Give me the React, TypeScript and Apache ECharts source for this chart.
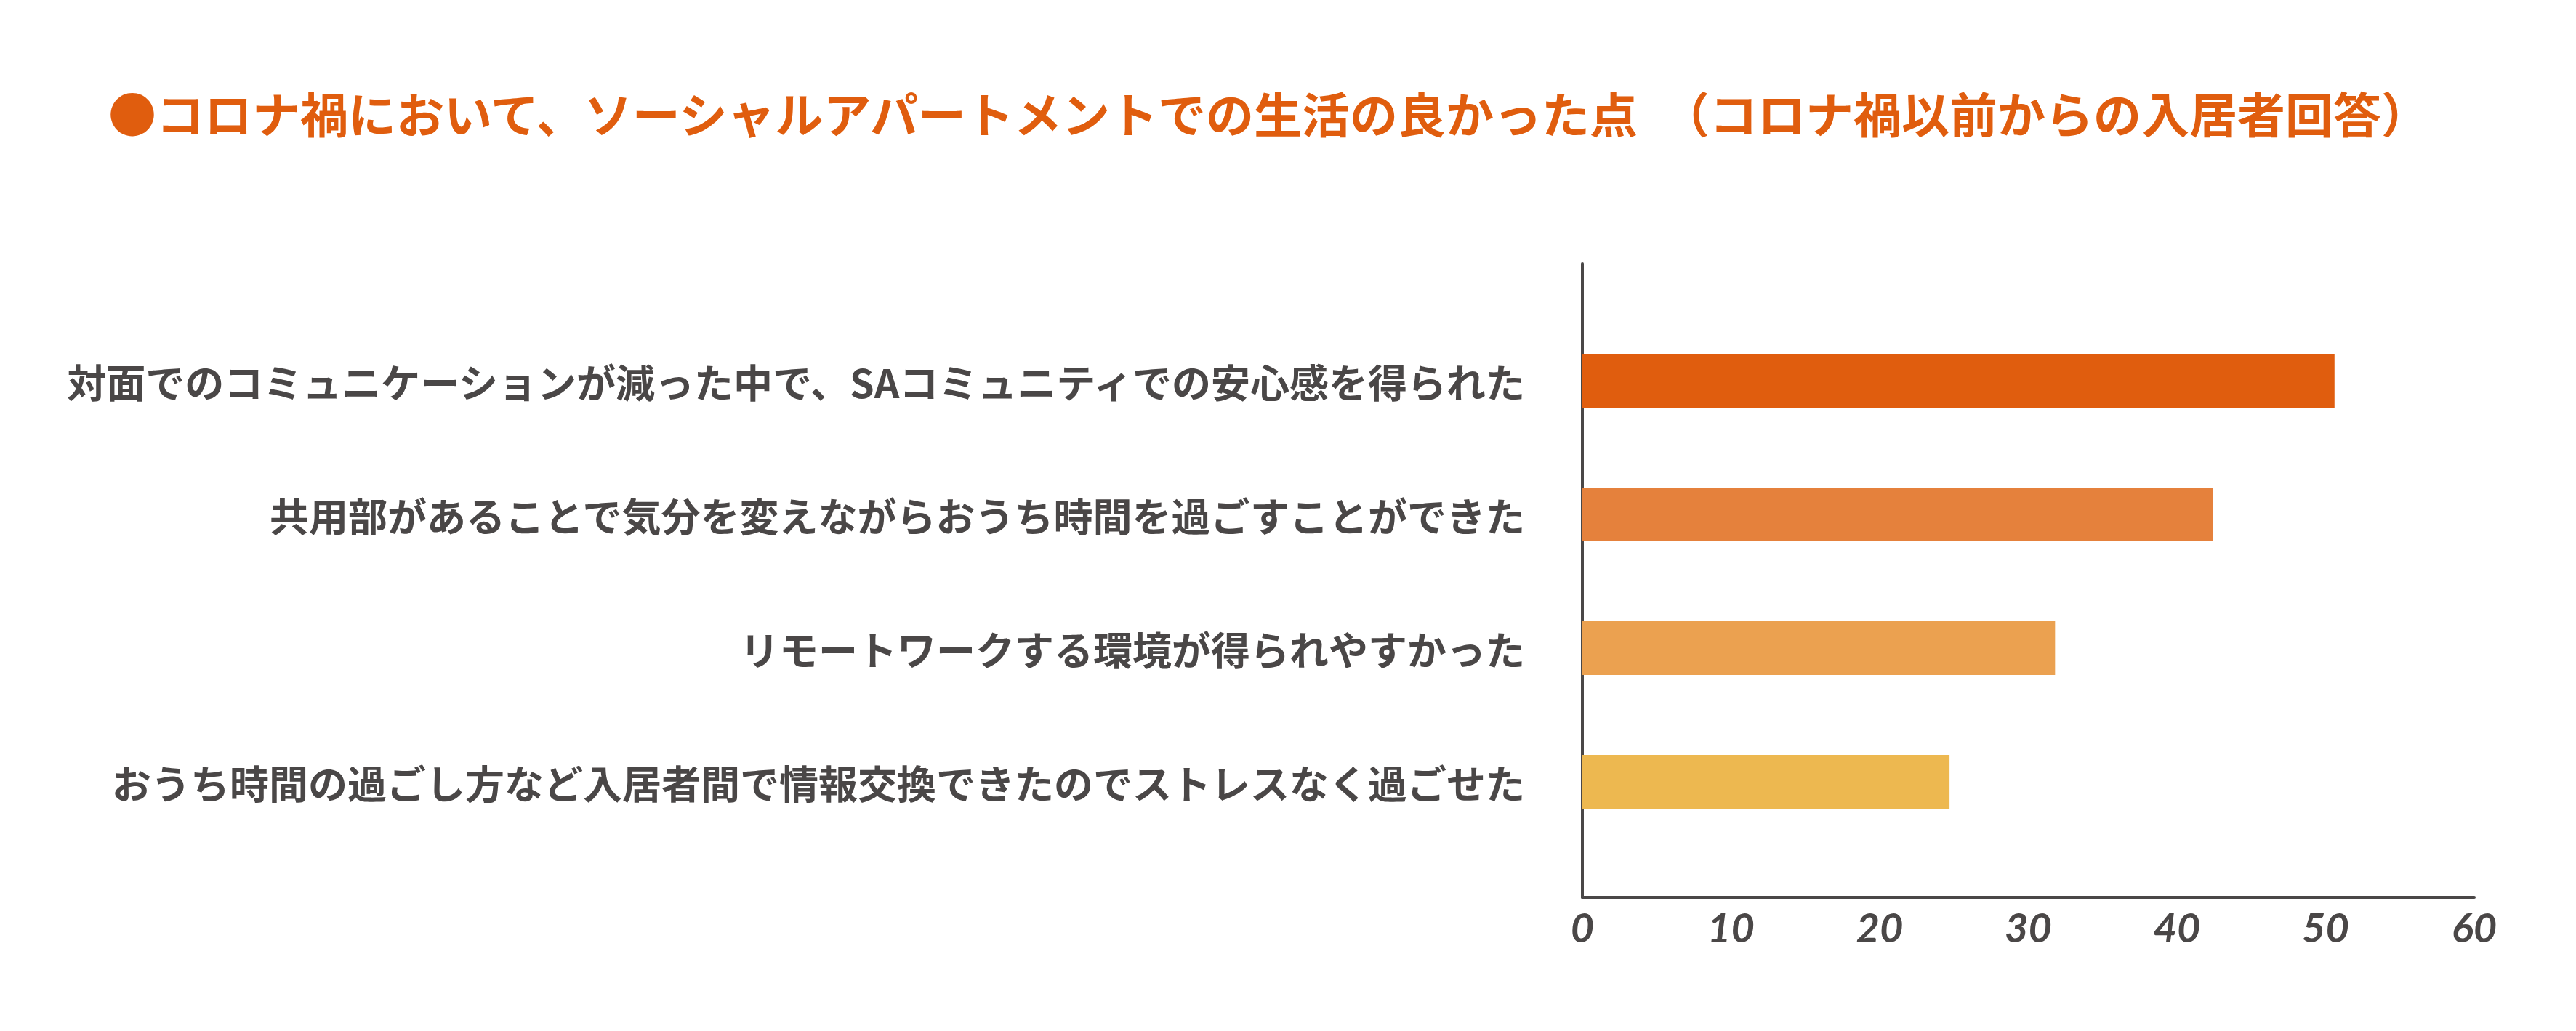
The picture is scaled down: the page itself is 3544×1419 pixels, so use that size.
import React, { useEffect, useRef } from 'react';
import * as echarts from 'echarts';

const titleText = '●コロナ禍において、ソーシャルアパートメントでの生活の良かった点　（コロナ禍以前からの入居者回答）';

const categories = [
  '対面でのコミュニケーションが減った中で、SAコミュニティでの安心感を得られた',
  '共用部があることで気分を変えながらおうち時間を過ごすことができた',
  'リモートワークする環境が得られやすかった',
  'おうち時間の過ごし方など入居者間で情報交換できたのでストレスなく過ごせた',
];

const values = [50.6, 42.4, 31.8, 24.7];

const barColors = ['#E05D0E', '#E5813C', '#EBA150', '#EDB850'];

const axisMax = 60;
const axisInterval = 10;

const App: React.FC = () => {
  const chartRef = useRef<HTMLDivElement>(null);

  useEffect(() => {
    document.body.style.margin = '0';
    document.body.style.overflow = 'hidden';
    if (!chartRef.current) return;

    const chart = echarts.init(chartRef.current, null, { renderer: 'svg' });

    const jp = '"Noto Sans CJK JP", "Noto Sans", sans-serif';
    const axisColor = '#4a4747';

    const option = {
      animation: false,
      backgroundColor: '#ffffff',
      title: {
        text: titleText,
        left: 149,
        top: 121,
        padding: 0,
        textStyle: {
          fontFamily: jp,
          fontSize: 66,
          fontWeight: 'bold',
          color: '#E05D0E',
        },
      },
      grid: [
        // frame with the axis lines
        { left: 2177, right: 140, top: 363, bottom: 184 },
        // bars
        { left: 2177, right: 140, top: 432, bottom: 251 },
      ],
      xAxis: [
        {
          gridIndex: 0,
          type: 'value',
          min: 0,
          max: axisMax,
          interval: axisInterval,
          axisLine: { show: true, lineStyle: { color: axisColor, width: 4 } },
          axisTick: { show: false },
          splitLine: { show: false },
          axisLabel: {
            margin: 12,
            fontFamily: 'Lato, "Open Sans", sans-serif',
            fontStyle: 'italic',
            fontWeight: 'bold',
            fontSize: 56,
            color: axisColor,
          },
        },
        {
          gridIndex: 1,
          type: 'value',
          min: 0,
          max: axisMax,
          show: false,
        },
      ],
      yAxis: [
        {
          gridIndex: 0,
          type: 'value',
          min: 0,
          max: 1,
          axisLine: { show: true, lineStyle: { color: axisColor, width: 4 } },
          axisTick: { show: false },
          axisLabel: { show: false },
          splitLine: { show: false },
        },
        {
          gridIndex: 1,
          type: 'category',
          inverse: true,
          data: categories,
          axisLine: { show: false },
          axisTick: { show: false },
          axisLabel: {
            margin: 79,
            fontFamily: jp,
            fontSize: 54,
            fontWeight: 'bold',
            color: axisColor,
          },
        },
      ],
      series: [
        {
          type: 'bar',
          xAxisIndex: 1,
          yAxisIndex: 1,
          barWidth: 74,
          data: values.map((v, i) => ({ value: v, itemStyle: { color: barColors[i] } })),
        },
      ],
    };

    chart.setOption(option);

    const handleResize = () => chart.resize();
    window.addEventListener('resize', handleResize);

    return () => {
      window.removeEventListener('resize', handleResize);
      chart.dispose();
    };
  }, []);

  return <div ref={chartRef} style={{ width: 3544, height: 1419 }} />;
};

export default App;
